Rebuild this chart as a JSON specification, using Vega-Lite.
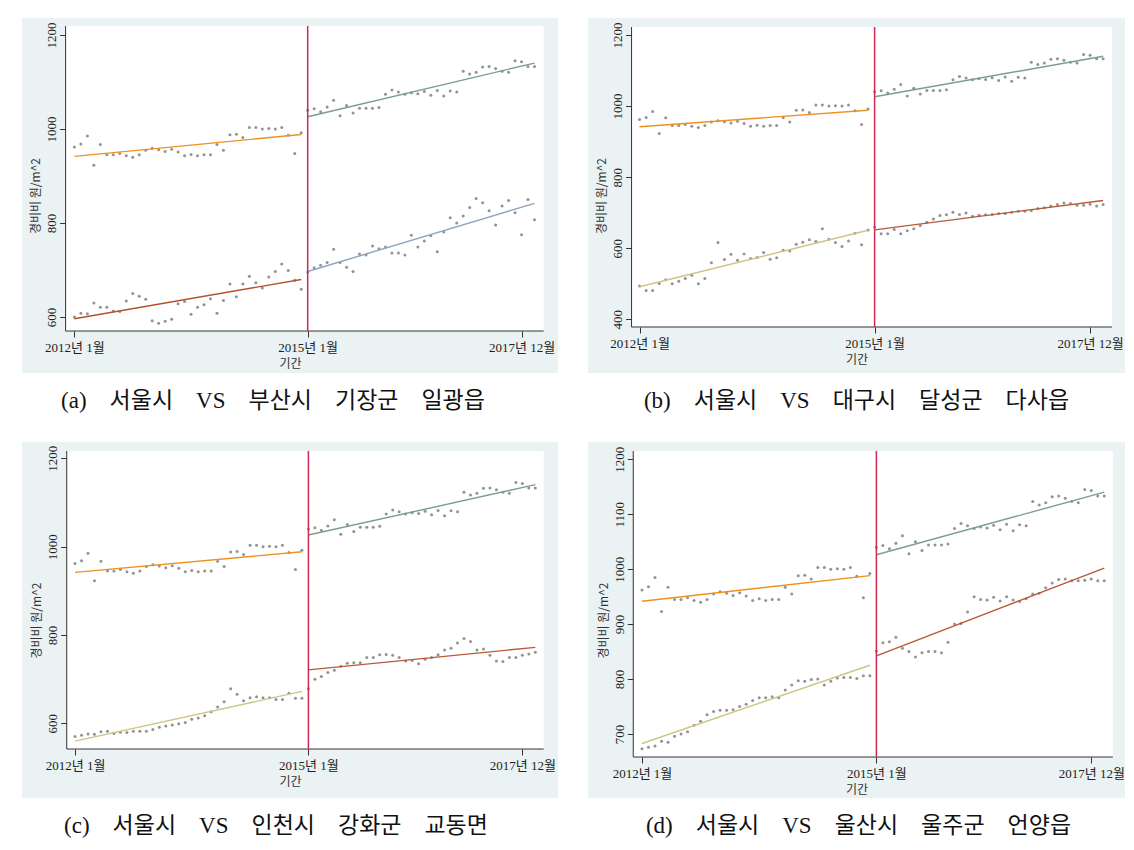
{
"$schema": "https://vega.github.io/schema/vega-lite/v6.json",
"background": "white",
"padding": {"left": 22, "top": 18, "right": 0, "bottom": 0},
"spacing": 29,
"config": {
  "view": {"stroke": null, "fill": "#eaf2f3"},
  "point": {"filled": true, "size": 9, "color": "#939393", "opacity": 1},
  "line": {"strokeWidth": 1.4},
  "axis": {"zindex": 1, "domain": false, "labelFont": "Liberation Serif, Noto Sans CJK KR", "labelFontSize": 13, "labelColor": "#222222", "titleFont": "Noto Sans CJK KR", "titleFontSize": 12, "titleFontWeight": "normal", "titleColor": "#333333", "tickColor": "#333333", "tickSize": 6, "gridColor": "#eaf2f3"},
  "axisX": {"grid": false, "labelPadding": 4, "titlePadding": 4},
  "axisY": {"grid": true, "labelPadding": 1, "labelAngle": -90, "labelAlign": "center", "labelBaseline": "bottom", "titlePadding": 3},
  "title": {"orient": "bottom", "anchor": "middle", "frame": "bounds", "font": "Liberation Serif, Noto Sans CJK KR", "fontSize": 23, "fontWeight": "normal", "color": "#111111", "offset": 17}
},
"datasets": {
  "seoul": [{"t":0,"v":962},{"t":1,"v":968},{"t":2,"v":985},{"t":3,"v":923},{"t":4,"v":967},{"t":5,"v":945},{"t":6,"v":945},{"t":7,"v":948},{"t":8,"v":943},{"t":9,"v":940},{"t":10,"v":945},{"t":11,"v":955},{"t":12,"v":959},{"t":13,"v":956},{"t":14,"v":952},{"t":15,"v":957},{"t":16,"v":951},{"t":17,"v":943},{"t":18,"v":946},{"t":19,"v":943},{"t":20,"v":945},{"t":21,"v":945},{"t":22,"v":967},{"t":23,"v":955},{"t":24,"v":988},{"t":25,"v":989},{"t":26,"v":982},{"t":27,"v":1003},{"t":28,"v":1003},{"t":29,"v":1000},{"t":30,"v":1001},{"t":31,"v":1000},{"t":32,"v":1003},{"t":33,"v":987},{"t":34,"v":948},{"t":35,"v":992},
    {"t":36,"v":1040},{"t":37,"v":1043},{"t":38,"v":1037},{"t":39,"v":1047},{"t":40,"v":1061},{"t":41,"v":1028},{"t":42,"v":1050},{"t":43,"v":1034},{"t":44,"v":1044},{"t":45,"v":1044},{"t":46,"v":1044},{"t":47,"v":1046},{"t":48,"v":1074},{"t":49,"v":1083},{"t":50,"v":1079},{"t":51,"v":1074},{"t":52,"v":1077},{"t":53,"v":1075},{"t":54,"v":1080},{"t":55,"v":1072},{"t":56,"v":1082},{"t":57,"v":1070},{"t":58,"v":1081},{"t":59,"v":1079},{"t":60,"v":1123},{"t":61,"v":1117},{"t":62,"v":1121},{"t":63,"v":1132},{"t":64,"v":1133},{"t":65,"v":1129},{"t":66,"v":1123},{"t":67,"v":1121},{"t":68,"v":1145},{"t":69,"v":1143},{"t":70,"v":1133},{"t":71,"v":1133}],
  "a": [{"t":0,"v":600},{"t":1,"v":608},{"t":2,"v":607},{"t":3,"v":630},{"t":4,"v":621},{"t":5,"v":621},{"t":6,"v":613},{"t":7,"v":612},{"t":8,"v":634},{"t":9,"v":650},{"t":10,"v":644},{"t":11,"v":638},{"t":12,"v":592},{"t":13,"v":587},{"t":14,"v":591},{"t":15,"v":595},{"t":16,"v":628},{"t":17,"v":633},{"t":18,"v":606},{"t":19,"v":621},{"t":20,"v":626},{"t":21,"v":639},{"t":22,"v":608},{"t":23,"v":635},{"t":24,"v":670},{"t":25,"v":643},{"t":26,"v":670},{"t":27,"v":687},{"t":28,"v":673},{"t":29,"v":662},{"t":30,"v":685},{"t":31,"v":697},{"t":32,"v":713},{"t":33,"v":699},{"t":34,"v":678},{"t":35,"v":659},
    {"t":36,"v":696},{"t":37,"v":705},{"t":38,"v":710},{"t":39,"v":716},{"t":40,"v":744},{"t":41,"v":716},{"t":42,"v":706},{"t":43,"v":697},{"t":44,"v":734},{"t":45,"v":732},{"t":46,"v":751},{"t":47,"v":745},{"t":48,"v":749},{"t":49,"v":736},{"t":50,"v":736},{"t":51,"v":732},{"t":52,"v":774},{"t":53,"v":749},{"t":54,"v":762},{"t":55,"v":773},{"t":56,"v":739},{"t":57,"v":781},{"t":58,"v":811},{"t":59,"v":800},{"t":60,"v":815},{"t":61,"v":833},{"t":62,"v":852},{"t":63,"v":843},{"t":64,"v":826},{"t":65,"v":796},{"t":66,"v":836},{"t":67,"v":848},{"t":68,"v":822},{"t":69,"v":775},{"t":70,"v":850},{"t":71,"v":807}],
  "b": [{"t":0,"v":494},{"t":1,"v":481},{"t":2,"v":481},{"t":3,"v":501},{"t":4,"v":511},{"t":5,"v":500},{"t":6,"v":507},{"t":7,"v":515},{"t":8,"v":524},{"t":9,"v":500},{"t":10,"v":515},{"t":11,"v":559},{"t":12,"v":616},{"t":13,"v":568},{"t":14,"v":583},{"t":15,"v":566},{"t":16,"v":584},{"t":17,"v":571},{"t":18,"v":574},{"t":19,"v":588},{"t":20,"v":569},{"t":21,"v":573},{"t":22,"v":594},{"t":23,"v":592},{"t":24,"v":611},{"t":25,"v":617},{"t":26,"v":624},{"t":27,"v":619},{"t":28,"v":655},{"t":29,"v":625},{"t":30,"v":616},{"t":31,"v":605},{"t":32,"v":620},{"t":33,"v":642},{"t":34,"v":610},{"t":35,"v":651},
    {"t":36,"v":660},{"t":37,"v":641},{"t":38,"v":641},{"t":39,"v":653},{"t":40,"v":641},{"t":41,"v":649},{"t":42,"v":655},{"t":43,"v":664},{"t":44,"v":673},{"t":45,"v":682},{"t":46,"v":692},{"t":47,"v":694},{"t":48,"v":701},{"t":49,"v":695},{"t":50,"v":699},{"t":51,"v":690},{"t":52,"v":693},{"t":53,"v":694},{"t":54,"v":695},{"t":55,"v":698},{"t":56,"v":698},{"t":57,"v":701},{"t":58,"v":704},{"t":59,"v":704},{"t":60,"v":706},{"t":61,"v":712},{"t":62,"v":714},{"t":63,"v":719},{"t":64,"v":723},{"t":65,"v":727},{"t":66,"v":726},{"t":67,"v":721},{"t":68,"v":721},{"t":69,"v":724},{"t":70,"v":719},{"t":71,"v":723}],
  "c": [{"t":0,"v":570},{"t":1,"v":573},{"t":2,"v":576},{"t":3,"v":575},{"t":4,"v":581},{"t":5,"v":582},{"t":6,"v":577},{"t":7,"v":580},{"t":8,"v":579},{"t":9,"v":582},{"t":10,"v":582},{"t":11,"v":582},{"t":12,"v":586},{"t":13,"v":591},{"t":14,"v":594},{"t":15,"v":596},{"t":16,"v":599},{"t":17,"v":602},{"t":18,"v":609},{"t":19,"v":612},{"t":20,"v":617},{"t":21,"v":626},{"t":22,"v":637},{"t":23,"v":649},{"t":24,"v":678},{"t":25,"v":666},{"t":26,"v":651},{"t":27,"v":658},{"t":28,"v":660},{"t":29,"v":658},{"t":30,"v":658},{"t":31,"v":654},{"t":32,"v":654},{"t":33,"v":668},{"t":34,"v":657},{"t":35,"v":657},
    {"t":36,"v":678},{"t":37,"v":700},{"t":38,"v":706},{"t":39,"v":715},{"t":40,"v":720},{"t":41,"v":729},{"t":42,"v":736},{"t":43,"v":737},{"t":44,"v":737},{"t":45,"v":749},{"t":46,"v":749},{"t":47,"v":755},{"t":48,"v":756},{"t":49,"v":754},{"t":50,"v":749},{"t":51,"v":741},{"t":52,"v":742},{"t":53,"v":735},{"t":54,"v":745},{"t":55,"v":749},{"t":56,"v":755},{"t":57,"v":766},{"t":58,"v":770},{"t":59,"v":782},{"t":60,"v":792},{"t":61,"v":785},{"t":62,"v":766},{"t":63,"v":768},{"t":64,"v":754},{"t":65,"v":741},{"t":66,"v":740},{"t":67,"v":749},{"t":68,"v":749},{"t":69,"v":754},{"t":70,"v":757},{"t":71,"v":761}],
  "d": [{"t":0,"v":673},{"t":1,"v":676},{"t":2,"v":678},{"t":3,"v":687},{"t":4,"v":685},{"t":5,"v":696},{"t":6,"v":700},{"t":7,"v":704},{"t":8,"v":716},{"t":9,"v":723},{"t":10,"v":735},{"t":11,"v":741},{"t":12,"v":743},{"t":13,"v":743},{"t":14,"v":744},{"t":15,"v":750},{"t":16,"v":754},{"t":17,"v":761},{"t":18,"v":766},{"t":19,"v":766},{"t":20,"v":768},{"t":21,"v":766},{"t":22,"v":780},{"t":23,"v":789},{"t":24,"v":797},{"t":25,"v":796},{"t":26,"v":799},{"t":27,"v":800},{"t":28,"v":789},{"t":29,"v":796},{"t":30,"v":802},{"t":31,"v":803},{"t":32,"v":803},{"t":33,"v":801},{"t":34,"v":806},{"t":35,"v":806},
    {"t":36,"v":851},{"t":37,"v":866},{"t":38,"v":868},{"t":39,"v":876},{"t":40,"v":856},{"t":41,"v":850},{"t":42,"v":840},{"t":43,"v":848},{"t":44,"v":850},{"t":45,"v":850},{"t":46,"v":848},{"t":47,"v":867},{"t":48,"v":900},{"t":49,"v":901},{"t":50,"v":922},{"t":51,"v":950},{"t":52,"v":945},{"t":53,"v":944},{"t":54,"v":949},{"t":55,"v":942},{"t":56,"v":950},{"t":57,"v":944},{"t":58,"v":941},{"t":59,"v":946},{"t":60,"v":955},{"t":61,"v":956},{"t":62,"v":966},{"t":63,"v":975},{"t":64,"v":981},{"t":65,"v":982},{"t":66,"v":979},{"t":67,"v":979},{"t":68,"v":980},{"t":69,"v":982},{"t":70,"v":979},{"t":71,"v":979}]
},
"vconcat": [
 {"spacing": 30, "hconcat": [
  {"width": 536, "height": 355,
   "title": {"text": "(a)\u2003서울시\u2003VS\u2003부산시\u2003기장군\u2003일광읍", "dx": -17},
   "layer": [
    {"data": {"values": [{}]}, "mark": {"type": "rect", "color": "white"}, "encoding": {"x": {"datum": -1.36, "type": "quantitative"}, "x2": {"datum": 72.42}, "y": {"datum": 570.2, "type": "quantitative"}, "y2": {"datum": 1219.1}}},
    {"data": {"values": [{}]}, "mark": {"type": "rule", "color": "#333333", "strokeWidth": 1}, "encoding": {"x": {"datum": -1.36, "type": "quantitative"}, "y": {"datum": 570.2, "type": "quantitative"}, "y2": {"datum": 1219.1}}},
    {"data": {"values": [{}]}, "mark": {"type": "rule", "color": "#333333", "strokeWidth": 1}, "encoding": {"x": {"datum": -1.36, "type": "quantitative"}, "x2": {"datum": 72.42}, "y": {"datum": 570.2, "type": "quantitative"}}},
    {"encoding": {
       "x": {"field": "t", "type": "quantitative", "scale": {"domain": [-8.09, 74.63], "nice": false, "zero": false}, "axis": {"values": [0, 36, 69], "offset": -42, "title": "기간", "labelExpr": "datum.value == 0 ? '2012년 1월' : datum.value == 36 ? '2015년 1월' : '2017년 12월'"}},
       "y": {"field": "v", "type": "quantitative", "scale": {"domain": [480.9, 1236.2], "nice": false, "zero": false}, "axis": {"values": [600, 800, 1000, 1200], "offset": -43.6, "format": "d", "title": "경비비 원/m^2"}}},
     "layer": [
      {"data": {"name": "seoul"}, "mark": "point"},
      {"data": {"name": "a"}, "mark": "point"},
      {"data": {"name": "seoul"}, "transform": [{"filter": "datum.t < 36"}, {"regression": "v", "on": "t"}], "mark": {"type": "line", "color": "#f0901e"}, "encoding": {}},
      {"data": {"name": "seoul"}, "transform": [{"filter": "datum.t >= 36"}, {"regression": "v", "on": "t"}], "mark": {"type": "line", "color": "#7a9e8e"}, "encoding": {}},
      {"data": {"name": "a"}, "transform": [{"filter": "datum.t < 36"}, {"regression": "v", "on": "t"}], "mark": {"type": "line", "color": "#b4502a"}, "encoding": {}},
      {"data": {"name": "a"}, "transform": [{"filter": "datum.t >= 36"}, {"regression": "v", "on": "t"}], "mark": {"type": "line", "color": "#8aa6c4"}, "encoding": {}}
     ]},
    {"data": {"values": [{}]}, "mark": {"type": "rule", "color": "#cc2a52", "strokeWidth": 1.5}, "encoding": {"x": {"datum": 36, "type": "quantitative"}, "y": {"datum": 570.2, "type": "quantitative"}, "y2": {"datum": 1219.1}}}
   ]},
  {"width": 537, "height": 355,
   "title": {"text": "(b)\u2003서울시\u2003VS\u2003대구시\u2003달성군\u2003다사읍", "dx": 0},
   "layer": [
    {"data": {"values": [{}]}, "mark": {"type": "rect", "color": "white"}, "encoding": {"x": {"datum": -1.23, "type": "quantitative"}, "x2": {"datum": 72.35}, "y": {"datum": 378.3, "type": "quantitative"}, "y2": {"datum": 1222.5}}},
    {"data": {"values": [{}]}, "mark": {"type": "rule", "color": "#333333", "strokeWidth": 1}, "encoding": {"x": {"datum": -1.23, "type": "quantitative"}, "y": {"datum": 378.3, "type": "quantitative"}, "y2": {"datum": 1222.5}}},
    {"data": {"values": [{}]}, "mark": {"type": "rule", "color": "#333333", "strokeWidth": 1}, "encoding": {"x": {"datum": -1.23, "type": "quantitative"}, "x2": {"datum": 72.35}, "y": {"datum": 378.3, "type": "quantitative"}}},
    {"encoding": {
       "x": {"field": "t", "type": "quantitative", "scale": {"domain": [-7.9, 74.35], "nice": false, "zero": false}, "axis": {"values": [0, 36, 69], "offset": -46, "title": "기간", "labelExpr": "datum.value == 0 ? '2012년 1월' : datum.value == 36 ? '2015년 1월' : '2017년 12월'"}},
       "y": {"field": "v", "type": "quantitative", "scale": {"domain": [248.9, 1247.8], "nice": false, "zero": false}, "axis": {"values": [400, 600, 800, 1000, 1200], "offset": -43.6, "format": "d", "title": "경비비 원/m^2"}}},
     "layer": [
      {"data": {"name": "seoul"}, "mark": "point"},
      {"data": {"name": "b"}, "mark": "point"},
      {"data": {"name": "seoul"}, "transform": [{"filter": "datum.t < 36"}, {"regression": "v", "on": "t"}], "mark": {"type": "line", "color": "#f0901e"}, "encoding": {}},
      {"data": {"name": "seoul"}, "transform": [{"filter": "datum.t >= 36"}, {"regression": "v", "on": "t"}], "mark": {"type": "line", "color": "#7a9e8e"}, "encoding": {}},
      {"data": {"name": "b"}, "transform": [{"filter": "datum.t < 36"}, {"regression": "v", "on": "t"}], "mark": {"type": "line", "color": "#cdc486"}, "encoding": {}},
      {"data": {"name": "b"}, "transform": [{"filter": "datum.t >= 36"}, {"regression": "v", "on": "t"}], "mark": {"type": "line", "color": "#b85a3a"}, "encoding": {}}
     ]},
    {"data": {"values": [{}]}, "mark": {"type": "rule", "color": "#cc2a52", "strokeWidth": 1.5}, "encoding": {"x": {"datum": 36, "type": "quantitative"}, "y": {"datum": 378.3, "type": "quantitative"}, "y2": {"datum": 1222.5}}}
   ]}
 ]},
 {"spacing": 30, "hconcat": [
  {"width": 536, "height": 356,
   "title": {"text": "(c)\u2003서울시\u2003VS\u2003인천시\u2003강화군\u2003교동면", "dx": -14},
   "layer": [
    {"data": {"values": [{}]}, "mark": {"type": "rect", "color": "white"}, "encoding": {"x": {"datum": -1.28, "type": "quantitative"}, "x2": {"datum": 72.3}, "y": {"datum": 541.8, "type": "quantitative"}, "y2": {"datum": 1216.5}}},
    {"data": {"values": [{}]}, "mark": {"type": "rule", "color": "#333333", "strokeWidth": 1}, "encoding": {"x": {"datum": -1.28, "type": "quantitative"}, "y": {"datum": 541.8, "type": "quantitative"}, "y2": {"datum": 1216.5}}},
    {"data": {"values": [{}]}, "mark": {"type": "rule", "color": "#333333", "strokeWidth": 1}, "encoding": {"x": {"datum": -1.28, "type": "quantitative"}, "x2": {"datum": 72.3}, "y": {"datum": 541.8, "type": "quantitative"}}},
    {"encoding": {
       "x": {"field": "t", "type": "quantitative", "scale": {"domain": [-8.18, 74.5], "nice": false, "zero": false}, "axis": {"values": [0, 36, 69], "offset": -49, "title": "기간", "labelExpr": "datum.value == 0 ? '2012년 1월' : datum.value == 36 ? '2015년 1월' : '2017년 12월'"}},
       "y": {"field": "v", "type": "quantitative", "scale": {"domain": [430.9, 1236.9], "nice": false, "zero": false}, "axis": {"values": [600, 800, 1000, 1200], "offset": -44.7, "format": "d", "title": "경비비 원/m^2"}}},
     "layer": [
      {"data": {"name": "seoul"}, "mark": "point"},
      {"data": {"name": "c"}, "mark": "point"},
      {"data": {"name": "seoul"}, "transform": [{"filter": "datum.t < 36"}, {"regression": "v", "on": "t"}], "mark": {"type": "line", "color": "#f0901e"}, "encoding": {}},
      {"data": {"name": "seoul"}, "transform": [{"filter": "datum.t >= 36"}, {"regression": "v", "on": "t"}], "mark": {"type": "line", "color": "#7a9e8e"}, "encoding": {}},
      {"data": {"name": "c"}, "transform": [{"filter": "datum.t < 36"}, {"regression": "v", "on": "t"}], "mark": {"type": "line", "color": "#cdc486"}, "encoding": {}},
      {"data": {"name": "c"}, "transform": [{"filter": "datum.t >= 36"}, {"regression": "v", "on": "t"}], "mark": {"type": "line", "color": "#b85a3a"}, "encoding": {}}
     ]},
    {"data": {"values": [{}]}, "mark": {"type": "rule", "color": "#cc2a52", "strokeWidth": 1.5}, "encoding": {"x": {"datum": 36, "type": "quantitative"}, "y": {"datum": 541.8, "type": "quantitative"}, "y2": {"datum": 1216.5}}}
   ]},
  {"width": 537, "height": 356,
   "title": {"text": "(d)\u2003서울시\u2003VS\u2003울산시\u2003울주군\u2003언양읍", "dx": 2},
   "layer": [
    {"data": {"values": [{}]}, "mark": {"type": "rect", "color": "white"}, "encoding": {"x": {"datum": -1.34, "type": "quantitative"}, "x2": {"datum": 72.32}, "y": {"datum": 658.1, "type": "quantitative"}, "y2": {"datum": 1215.1}}},
    {"data": {"values": [{}]}, "mark": {"type": "rule", "color": "#333333", "strokeWidth": 1}, "encoding": {"x": {"datum": -1.34, "type": "quantitative"}, "y": {"datum": 658.1, "type": "quantitative"}, "y2": {"datum": 1215.1}}},
    {"data": {"values": [{}]}, "mark": {"type": "rule", "color": "#333333", "strokeWidth": 1}, "encoding": {"x": {"datum": -1.34, "type": "quantitative"}, "x2": {"datum": 72.32}, "y": {"datum": 658.1, "type": "quantitative"}}},
    {"encoding": {
       "x": {"field": "t", "type": "quantitative", "scale": {"domain": [-8.29, 74.18], "nice": false, "zero": false}, "axis": {"values": [0, 36, 69], "offset": -41, "title": "기간", "labelExpr": "datum.value == 0 ? '2012년 1월' : datum.value == 36 ? '2015년 1월' : '2017년 12월'"}},
       "y": {"field": "v", "type": "quantitative", "scale": {"domain": [583.5, 1231.5], "nice": false, "zero": false}, "axis": {"values": [700, 800, 900, 1000, 1100, 1200], "offset": -45.3, "format": "d", "title": "경비비 원/m^2"}}},
     "layer": [
      {"data": {"name": "seoul"}, "mark": "point"},
      {"data": {"name": "d"}, "mark": "point"},
      {"data": {"name": "seoul"}, "transform": [{"filter": "datum.t < 36"}, {"regression": "v", "on": "t"}], "mark": {"type": "line", "color": "#f0901e"}, "encoding": {}},
      {"data": {"name": "seoul"}, "transform": [{"filter": "datum.t >= 36"}, {"regression": "v", "on": "t"}], "mark": {"type": "line", "color": "#7a9e8e"}, "encoding": {}},
      {"data": {"name": "d"}, "transform": [{"filter": "datum.t < 36"}, {"regression": "v", "on": "t"}], "mark": {"type": "line", "color": "#cdc486"}, "encoding": {}},
      {"data": {"name": "d"}, "transform": [{"filter": "datum.t >= 36"}, {"regression": "v", "on": "t"}], "mark": {"type": "line", "color": "#b85a3a"}, "encoding": {}}
     ]},
    {"data": {"values": [{}]}, "mark": {"type": "rule", "color": "#cc2a52", "strokeWidth": 1.5}, "encoding": {"x": {"datum": 36, "type": "quantitative"}, "y": {"datum": 658.1, "type": "quantitative"}, "y2": {"datum": 1215.1}}}
   ]}
 ]}
]
}
